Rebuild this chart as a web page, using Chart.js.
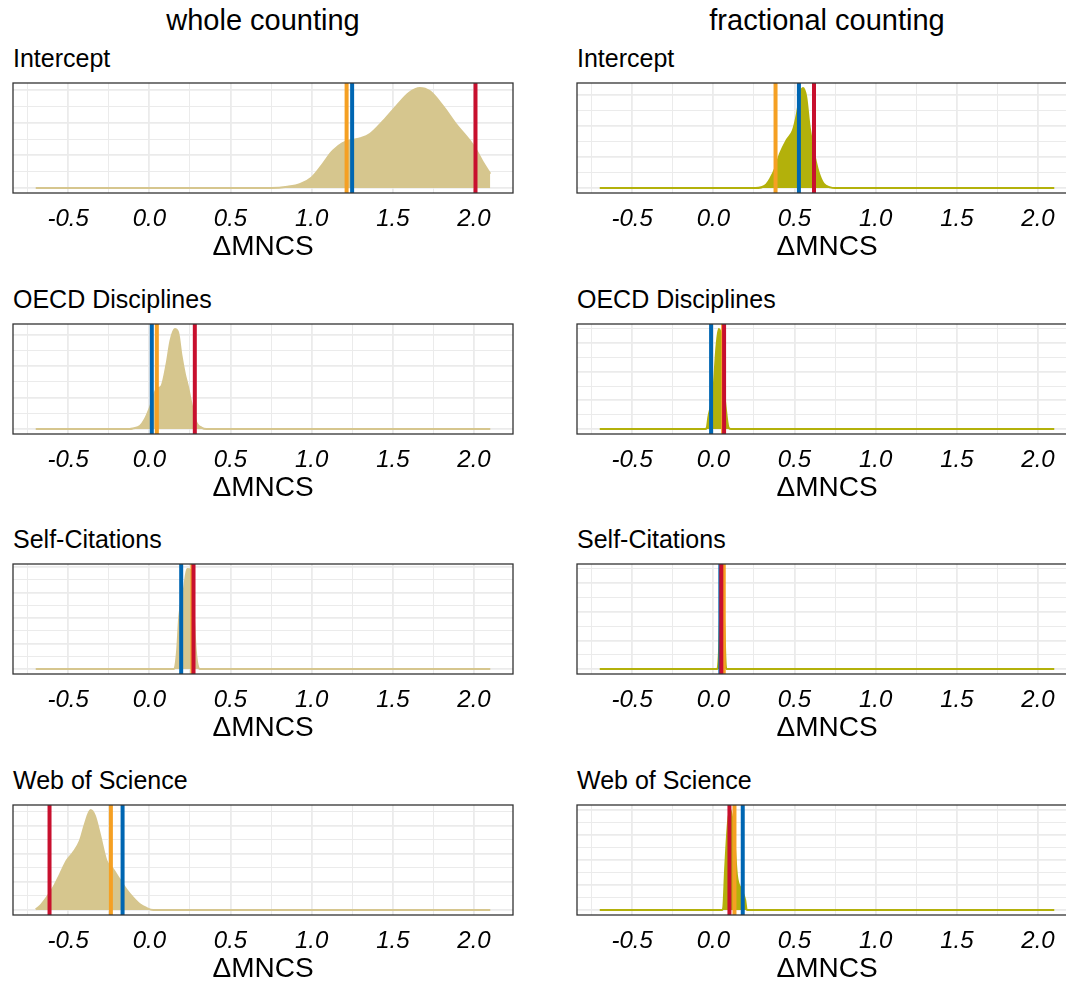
<!DOCTYPE html>
<html>
<head>
<meta charset="utf-8">
<script src="https://cdn.jsdelivr.net/npm/chart.js@4.4.1/dist/chart.umd.min.js"></script>
<style>
  html, body { margin: 0; padding: 0; background: #fff; overflow: hidden; width: 1066px; height: 983px; }
  body { position: relative; font-family: "Liberation Sans", Arial, sans-serif; color: #000; }
  .hd { position: absolute; width: 500px; text-align: center; font-size: 29px; line-height: 29px; }
  .pt { position: absolute; font-size: 25px; line-height: 25px; white-space: nowrap; }
  canvas { position: absolute; }
</style>
</head>
<body>
<script>
// names
const columnNames = ['whole counting', 'fractional counting'];
const panelNames = ['Intercept', 'OECD Disciplines', 'Self-Citations', 'Web of Science'];

// x axis ticks
const majorTicks = [-0.5, 0.0, 0.5, 1.0, 1.5, 2.0];
const tickLabels = ['-0.5', '0.0', '0.5', '1.0', '1.5', '2.0'];
const minorTicks = [-0.75, -0.25, 0.25, 0.75, 1.25, 1.75];

// densities, whole counting
const wholeInterceptX = [-0.7, 0.75, 0.85, 0.93, 1.0, 1.07, 1.113, 1.132, 1.19, 1.25, 1.30, 1.358, 1.44, 1.52, 1.60, 1.666, 1.727, 1.81, 1.89, 1.974, 2.015, 2.055, 2.1];
const wholeInterceptY = [0, 0, 0.015, 0.05, 0.13, 0.30, 0.417, 0.46, 0.55, 0.59, 0.61, 0.66, 0.82, 1.0, 1.165, 1.225, 1.186, 1.0, 0.78, 0.58, 0.46, 0.316, 0.175];
const wholeOecdX = [-0.7, -0.12, -0.1, -0.058, -0.028, 0.003, 0.044, 0.075, 0.106, 0.13, 0.157, 0.177, 0.198, 0.219, 0.239, 0.26, 0.29, 0.321, 0.352, 2.1];
const wholeOecdY = [0, 0, 0.04, 0.19, 0.62, 1.36, 2.53, 2.74, 4.13, 5.62, 6.36, 6.15, 4.66, 3.49, 2.64, 1.57, 0.40, 0.09, 0, 0];
const wholeSelfX = [-0.7, 0.15, 0.157, 0.171, 0.184, 0.212, 0.233, 0.254, 0.27, 0.286, 0.301, 0.311, 2.1];
const wholeSelfY = [0, 0, 0.4, 7.2, 20.4, 30.9, 39.2, 38.8, 25, 7.2, 0.66, 0, 0];
const wholeWosX = [-0.7, -0.674, -0.633, -0.592, -0.551, -0.51, -0.469, -0.428, -0.397, -0.362, -0.336, -0.305, -0.264, -0.223, -0.182, -0.14, -0.1, -0.058, -0.017, 0.023, 2.1];
const wholeWosY = [0.02, 0.14, 0.44, 0.80, 1.27, 1.75, 2.05, 2.46, 3.06, 3.56, 3.36, 2.70, 1.75, 1.45, 1.08, 0.72, 0.44, 0.2, 0.07, 0, 0];

// densities, fractional counting
const fracInterceptX = [-0.7, 0.26, 0.32, 0.35, 0.38, 0.41, 0.45, 0.49, 0.515, 0.535, 0.552, 0.572, 0.593, 0.617, 0.648, 0.679, 0.72, 0.75, 2.1];
const fracInterceptY = [0, 0, 0.17, 0.6, 1.25, 2.2, 3.07, 3.72, 4.8, 6.09, 6.45, 5.87, 3.94, 2.43, 1.03, 0.28, 0.04, 0, 0];
const fracOecdX = [-0.7, -0.05, -0.041, -0.031, 0.0, 0.017, 0.033, 0.046, 0.056, 0.078, 0.093, 0.107, 2.1];
const fracOecdY = [0, 0, 0.35, 4.1, 13.4, 27.3, 34.9, 33.1, 20.3, 6.4, 0.58, 0, 0];
const fracSelfX = [-0.7, 0.025, 0.035, 0.045, 0.052, 0.06, 0.068, 0.076, 0.082, 2.1];
const fracSelfY = [0, 0, 13, 50, 70, 50, 29, 3, 0, 0];
const fracWosX = [-0.7, 0.055, 0.062, 0.072, 0.09, 0.105, 0.125, 0.145, 0.175, 0.196, 0.206, 2.1];
const fracWosY = [0, 0, 1.6, 15.8, 35, 40, 32, 14, 8, 4, 0, 0];

// vertical marks [orange, blue, red]
const wholeMarks = [[1.215, 1.249, 2.009], [0.046, 0.015, 0.28], [0.265, 0.196, 0.272], [-0.237, -0.165, -0.615]];
const fracMarks = [[0.383, 0.527, 0.62], [0.06, -0.014, 0.066], [0.064, 0.043, 0.049], [0.13, 0.181, 0.099]];

// density gridline spacing per row [whole, fractional]
const yStep = [[0.2, 1], [1, 5], [5, 10], [0.5, 5]];

const ORANGE = '#F5A023', BLUE = '#0066B2', RED = '#C8102E';
const FILLS = ['#D6C68E', '#B3B10B'];
const FONT = '"Liberation Sans", Arial, sans-serif';

const boxPlugin = {
  id: 'panelBox',
  afterDraw(chart) {
    const { ctx, chartArea: a } = chart;
    ctx.save();
    ctx.strokeStyle = '#333333';
    ctx.lineWidth = 1.3;
    ctx.strokeRect(a.left, a.top, a.right - a.left, a.bottom - a.top);
    ctx.restore();
  }
};

function addText(cls, text, left, top) {
  const d = document.createElement('div');
  d.className = cls;
  d.textContent = text;
  d.style.left = left + 'px';
  d.style.top = top + 'px';
  document.body.appendChild(d);
}

function makePanel(left, top, xs, ys, marks, fill, step) {
  const cv = document.createElement('canvas');
  cv.width = 502; cv.height = 191;
  cv.style.left = left + 'px';
  cv.style.top = top + 'px';
  document.body.appendChild(cv);

  const peak = Math.max(...ys);
  const yMin = -0.05 * peak, yMax = 1.05 * peak;
  const yGrid = [];
  for (let i = 0; i * step <= yMax; i++) yGrid.push(i * step);
  const xGrid = minorTicks.concat(majorTicks).sort((a, b) => a - b);

  const vline = (v, c) => ({
    data: [{ x: v, y: yMin }, { x: v, y: yMax }],
    borderColor: c, borderWidth: 4, pointRadius: 0, fill: false
  });

  new Chart(cv, {
    type: 'line',
    data: {
      datasets: [
        vline(marks[2], RED),
        vline(marks[1], BLUE),
        vline(marks[0], ORANGE),
        {
          data: xs.map((x, i) => ({ x: x, y: ys[i] })),
          borderColor: fill, backgroundColor: fill, borderWidth: 2,
          pointRadius: 0, fill: 'origin', cubicInterpolationMode: 'monotone'
        }
      ]
    },
    options: {
      responsive: false,
      animation: false,
      events: [],
      layout: { padding: { left: 1, right: 1, top: 1, bottom: 0 } },
      plugins: { legend: { display: false }, tooltip: { enabled: false } },
      scales: {
        x: {
          type: 'linear', min: -0.84, max: 2.24,
          afterBuildTicks: s => { s.ticks = xGrid.map(v => ({ value: v })); },
          afterFit: s => { s.height = 80; },
          grid: {
            color: '#EBEBEB', drawTicks: false,
            lineWidth: c => (majorTicks.includes(c.tick.value) ? 1.8 : 1)
          },
          border: { display: false },
          ticks: {
            autoSkip: false, maxRotation: 0, padding: 12, color: '#000',
            font: { family: FONT, size: 24, style: 'italic' },
            callback: v => { const k = majorTicks.indexOf(v); return k < 0 ? '' : tickLabels[k]; }
          },
          title: {
            display: true, text: 'ΔMNCS', color: '#000',
            font: { family: FONT, size: 28 }, padding: { top: 0, bottom: 9 }
          }
        },
        y: {
          type: 'linear', min: yMin, max: yMax,
          afterBuildTicks: s => { s.ticks = yGrid.map(v => ({ value: v })); },
          afterFit: s => { s.width = 0; },
          ticks: { display: false },
          grid: {
            color: '#EBEBEB', drawTicks: false,
            lineWidth: c => (Math.round(c.tick.value / step) % 2 === 0 ? 1.8 : 1)
          },
          border: { display: false }
        }
      }
    },
    plugins: [boxPlugin]
  });
}

const wholeX = [wholeInterceptX, wholeOecdX, wholeSelfX, wholeWosX];
const wholeY = [wholeInterceptY, wholeOecdY, wholeSelfY, wholeWosY];
const fracX = [fracInterceptX, fracOecdX, fracSelfX, fracWosX];
const fracY = [fracInterceptY, fracOecdY, fracSelfY, fracWosY];

const colLeft = [12, 576];
const rowTop = [82, 323, 563, 804];

addText('hd', columnNames[0], colLeft[0] + 1, 6);
addText('hd', columnNames[1], colLeft[1] + 1, 6);

for (let r = 0; r < 4; r++) {
  addText('pt', panelNames[r], colLeft[0] + 1, rowTop[r] - 36);
  addText('pt', panelNames[r], colLeft[1] + 1, rowTop[r] - 36);
  makePanel(colLeft[0], rowTop[r], wholeX[r], wholeY[r], wholeMarks[r], FILLS[0], yStep[r][0]);
  makePanel(colLeft[1], rowTop[r], fracX[r], fracY[r], fracMarks[r], FILLS[1], yStep[r][1]);
}
</script>
</body>
</html>
